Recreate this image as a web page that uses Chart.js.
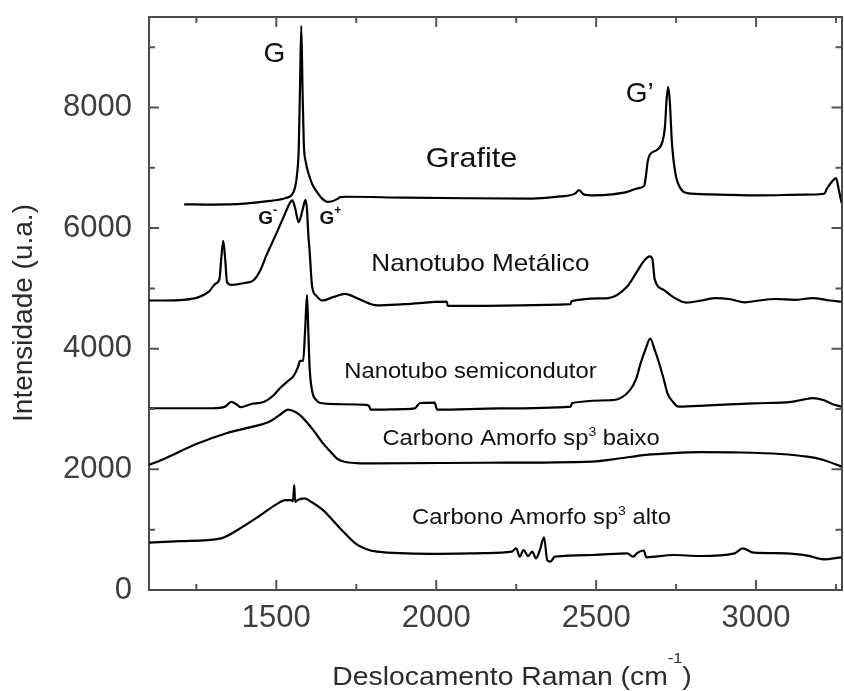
<!DOCTYPE html>
<html>
<head>
<meta charset="utf-8">
<script src="https://cdn.jsdelivr.net/npm/chart.js@4.4.1/dist/chart.umd.min.js"></script>
<style>
  html, body { margin: 0; padding: 0; background: #fff; }
  #wrap { width: 844px; height: 691px; position: relative; }
</style>
</head>
<body>
<div id="wrap"><canvas id="raman"></canvas></div>
<script>
// Raman spectra (shift in cm-1, intensity in a.u., curves offset as in the figure)
const grafite = [
  [1212,6395],[1300,6390],[1400,6405],[1480,6450],[1530,6500],[1547,6545],[1559,6680],[1566,6950],
  [1570,7300],[1574,8300],[1578,9350],[1582,8300],[1586,7400],[1592,7100],[1601,6900],[1613,6720],
  [1627,6600],[1645,6480],[1659,6435],[1675,6445],[1690,6480],[1700,6515],[1720,6520],[1900,6505],
  [2100,6495],[2300,6490],[2388,6525],[2435,6576],[2446,6630],[2461,6560],[2493,6543],[2550,6560],
  [2597,6600],[2630,6660],[2650,6700],[2656,6880],[2661,7100],[2668,7220],[2691,7300],[2707,7430],
  [2715,7675],[2720,8117],[2725,8340],[2730,8117],[2737,7400],[2748,6900],[2764,6654],[2785,6581],
  [2858,6560],[3014,6543],[3150,6555],[3213,6570],[3222,6660],[3237,6770],[3250,6830],[3258,6650],
  [3267,6420]
];
const metalico = [
  [1102,4800],[1150,4800],[1209,4810],[1260,4860],[1290,4950],[1310,5080],[1322,5150],[1328,5500],
  [1334,5790],[1340,5500],[1346,5100],[1360,5060],[1400,5090],[1430,5140],[1450,5300],[1470,5560],
  [1495,5850],[1520,6150],[1544,6430],[1550,6460],[1558,6350],[1570,6100],[1582,6300],[1591,6470],
  [1596,6300],[1600,5900],[1604,5632],[1612,5030],[1625,4880],[1643,4800],[1680,4860],[1714,4910],
  [1760,4820],[1815,4720],[1900,4740],[2033,4780],[2036,4710],[2420,4740],[2423,4790],[2538,4840],
  [2597,5030],[2630,5300],[2647,5440],[2668,5530],[2676,5480],[2683,5150],[2710,4980],[2740,4860],
  [2782,4765],[2830,4800],[2874,4840],[2920,4820],[2965,4770],[3010,4800],[3060,4825],[3120,4810],
  [3177,4840],[3230,4800],[3267,4780]
];
const semicondutor = [
  [1102,3013],[1300,3013],[1340,3040],[1359,3120],[1375,3080],[1389,3030],[1420,3080],[1462,3120],
  [1490,3220],[1512,3350],[1540,3480],[1553,3540],[1568,3700],[1574,3800],[1584,3800],[1590,4300],
  [1596,4890],[1600,4300],[1604,3700],[1612,3300],[1625,3150],[1638,3100],[1700,3080],[1781,3070],
  [1790,3050],[1795,2990],[1900,3000],[1932,3010],[1950,3100],[1995,3105],[2003,2990],[2200,3010],
  [2420,3040],[2425,3100],[2555,3150],[2605,3310],[2625,3500],[2639,3760],[2655,4000],[2669,4170],
  [2683,3980],[2697,3760],[2712,3480],[2723,3260],[2740,3120],[2757,3040],[2850,3060],[2992,3095],
  [3110,3120],[3150,3160],[3177,3180],[3210,3150],[3240,3080],[3267,3040]
];
const amorfoBaixo = [
  [1102,2073],[1141,2156],[1250,2420],[1344,2600],[1420,2700],[1478,2790],[1510,2900],[1537,2990],
  [1560,2950],[1580,2870],[1620,2620],[1646,2430],[1670,2290],[1690,2180],[1710,2130],[1750,2105],
  [1815,2100],[2150,2110],[2487,2130],[2570,2180],[2656,2240],[2740,2270],[2825,2285],[2950,2280],
  [3075,2255],[3160,2210],[3211,2155],[3267,2045]
];
const amorfoAlto = [
  [1102,785],[1200,810],[1327,857],[1380,1000],[1444,1215],[1500,1420],[1529,1490],[1546,1490],
  [1552,1470],[1556,1740],[1559,1462],[1566,1490],[1588,1518],[1610,1460],[1646,1325],[1700,1020],
  [1747,775],[1780,680],[1815,635],[1983,600],[2150,610],[2236,635],[2250,690],[2261,552],[2273,663],
  [2287,563],[2300,635],[2312,525],[2324,663],[2337,873],[2347,497],[2357,470],[2371,552],[2487,580],
  [2597,608],[2615,552],[2630,620],[2649,655],[2657,542],[2740,580],[2825,564],[2933,608],[2958,691],
  [2992,619],[3093,608],[3160,570],[3211,509],[3267,542]
];

const seriesNames = ['Grafite', 'Nanotubo Metálico', 'Nanotubo semicondutor', 'Carbono Amorfo sp3 baixo', 'Carbono Amorfo sp3 alto'];
const seriesData = [grafite, metalico, semicondutor, amorfoBaixo, amorfoAlto];

const xTicks = [1500, 2000, 2500, 3000];
const xMinor = [1250, 1750, 2250, 2750, 3250];
const yTicks = [0, 2000, 4000, 6000, 8000];
const yMinor = [1000, 3000, 5000, 7000, 9000];
const X_MIN = 1102, X_MAX = 3267, Y_MIN = 0, Y_MAX = 9500;

// text labels inside the plot, placed in data units
const notes = [
  { x: 1494, y: 8912, sx: 1, parts: [['G', 28]] },
  { x: 2636, y: 8249, sx: 1, parts: [['G\u2019', 28]] },
  { x: 2110, y: 7173, sx: 1.09, parts: [['Grafite', 28]] },
  { x: 1473, y: 6179, sx: 1, parts: [['G', 19, true], ['-', 12, true, 10]] },
  { x: 1669, y: 6179, sx: 1, parts: [['G', 19, true], ['+', 12, true, 10]] },
  { x: 2138, y: 5433, sx: 1.09, parts: [['Nanotubo Metálico', 24]] },
  { x: 2107, y: 3644, sx: 1.08, parts: [['Nanotubo semicondutor', 22]] },
  { x: 2265, y: 2534, sx: 1.08, parts: [['Carbono Amorfo sp', 22], ['3', 13, false, 9], [' baixo', 22]] },
  { x: 2329, y: 1226, sx: 1.08, parts: [['Carbono Amorfo sp', 22], ['3', 13, false, 9], [' alto', 22]] }
];

const FONT = '"Liberation Sans", Arial, Helvetica, sans-serif';
const fontOf = p => (p[2] ? 'bold ' : '') + p[1] + 'px ' + FONT;

// draws a run of text pieces centred (cap-height centre) at cx, cy
function richText(ctx, parts, cx, cy, sx) {
  let w = 0;
  parts.forEach(p => { ctx.font = fontOf(p); w += ctx.measureText(p[0]).width; });
  ctx.save();
  ctx.translate(cx, cy + parts[0][1] * 0.358);
  ctx.scale(sx, 1);
  ctx.textAlign = 'left';
  ctx.textBaseline = 'alphabetic';
  let x = -w / 2;
  parts.forEach(p => {
    ctx.font = fontOf(p);
    ctx.fillText(p[0], x, -(p[3] || 0));
    x += ctx.measureText(p[0]).width;
  });
  ctx.restore();
}

const tickMarks = {
  id: 'tickMarks',
  afterDraw(chart) {
    const { ctx, chartArea: a, scales: { x, y } } = chart;
    ctx.save();
    ctx.strokeStyle = '#555';
    ctx.lineWidth = 2;
    ctx.beginPath();
    const xt = (vals, len) => vals.forEach(v => {
      const p = x.getPixelForValue(v);
      ctx.moveTo(p, a.bottom); ctx.lineTo(p, a.bottom - len);
      ctx.moveTo(p, a.top); ctx.lineTo(p, a.top + len);
    });
    const yt = (vals, len) => vals.forEach(v => {
      const p = y.getPixelForValue(v);
      ctx.moveTo(a.left, p); ctx.lineTo(a.left + len, p);
      ctx.moveTo(a.right, p); ctx.lineTo(a.right - len, p);
    });
    xt(xTicks, 10); xt(xMinor, 6);
    yt(yTicks.filter(v => v > Y_MIN), 10); yt(yMinor, 6);
    ctx.stroke();
    ctx.restore();
  }
};

const labelsPlugin = {
  id: 'labelsPlugin',
  afterDraw(chart) {
    const { ctx, scales: { x, y } } = chart;
    ctx.save();
    ctx.fillStyle = '#111';
    notes.forEach(n => richText(ctx, n.parts, x.getPixelForValue(n.x), y.getPixelForValue(n.y), n.sx));

    // axis titles
    ctx.fillStyle = '#2b2b2b';
    richText(ctx, [['Deslocamento Raman (cm', 26], ['-1', 15, false, 22], [')', 26]], 512, 676, 1.09);
    ctx.save();
    ctx.translate(22, 313);
    ctx.rotate(-Math.PI / 2);
    richText(ctx, [['Intensidade (u.a.)', 28]], 0, 0, 1);
    ctx.restore();
    ctx.restore();
  }
};

const tickFont = { family: FONT, size: 31, lineHeight: 1 };
const frame = { display: true, color: '#4a4a4a', width: 2 };
const plain = v => String(v);

new Chart(document.getElementById('raman'), {
  type: 'line',
  data: {
    datasets: seriesData.map((s, i) => ({
      label: seriesNames[i],
      data: s.map(([px, py]) => ({ x: px, y: py })),
      borderColor: '#000',
      borderWidth: 2.2,
      pointRadius: 0,
      fill: false,
      cubicInterpolationMode: 'monotone'
    }))
  },
  options: {
    responsive: true,
    maintainAspectRatio: false,
    animation: false,
    layout: { padding: 0 },
    plugins: { legend: { display: false }, tooltip: { enabled: false } },
    scales: {
      x: {
        type: 'linear', position: 'bottom', min: X_MIN, max: X_MAX,
        afterBuildTicks: s => { s.ticks = xTicks.map(v => ({ value: v })); },
        afterFit: s => { s.height = 101; s.paddingLeft = 0; s.paddingRight = 0; },
        grid: { display: false },
        border: frame,
        ticks: { font: tickFont, color: '#3d3d3d', padding: 5, maxRotation: 0, callback: plain }
      },
      x2: {
        type: 'linear', position: 'top', min: X_MIN, max: X_MAX,
        afterFit: s => { s.height = 17; },
        grid: { display: false },
        border: frame,
        ticks: { display: false }
      },
      y: {
        type: 'linear', position: 'left', min: Y_MIN, max: Y_MAX,
        afterBuildTicks: s => { s.ticks = yTicks.map(v => ({ value: v })); },
        afterFit: s => { s.width = 149; s.paddingTop = 0; s.paddingBottom = 0; },
        grid: { display: false },
        border: frame,
        ticks: { font: tickFont, color: '#3d3d3d', padding: 9, callback: plain }
      },
      y2: {
        type: 'linear', position: 'right', min: Y_MIN, max: Y_MAX,
        afterFit: s => { s.width = 2.5; s.paddingTop = 0; s.paddingBottom = 0; },
        grid: { display: false },
        border: frame,
        ticks: { display: false }
      }
    }
  },
  plugins: [tickMarks, labelsPlugin]
});
</script>
</body>
</html>
